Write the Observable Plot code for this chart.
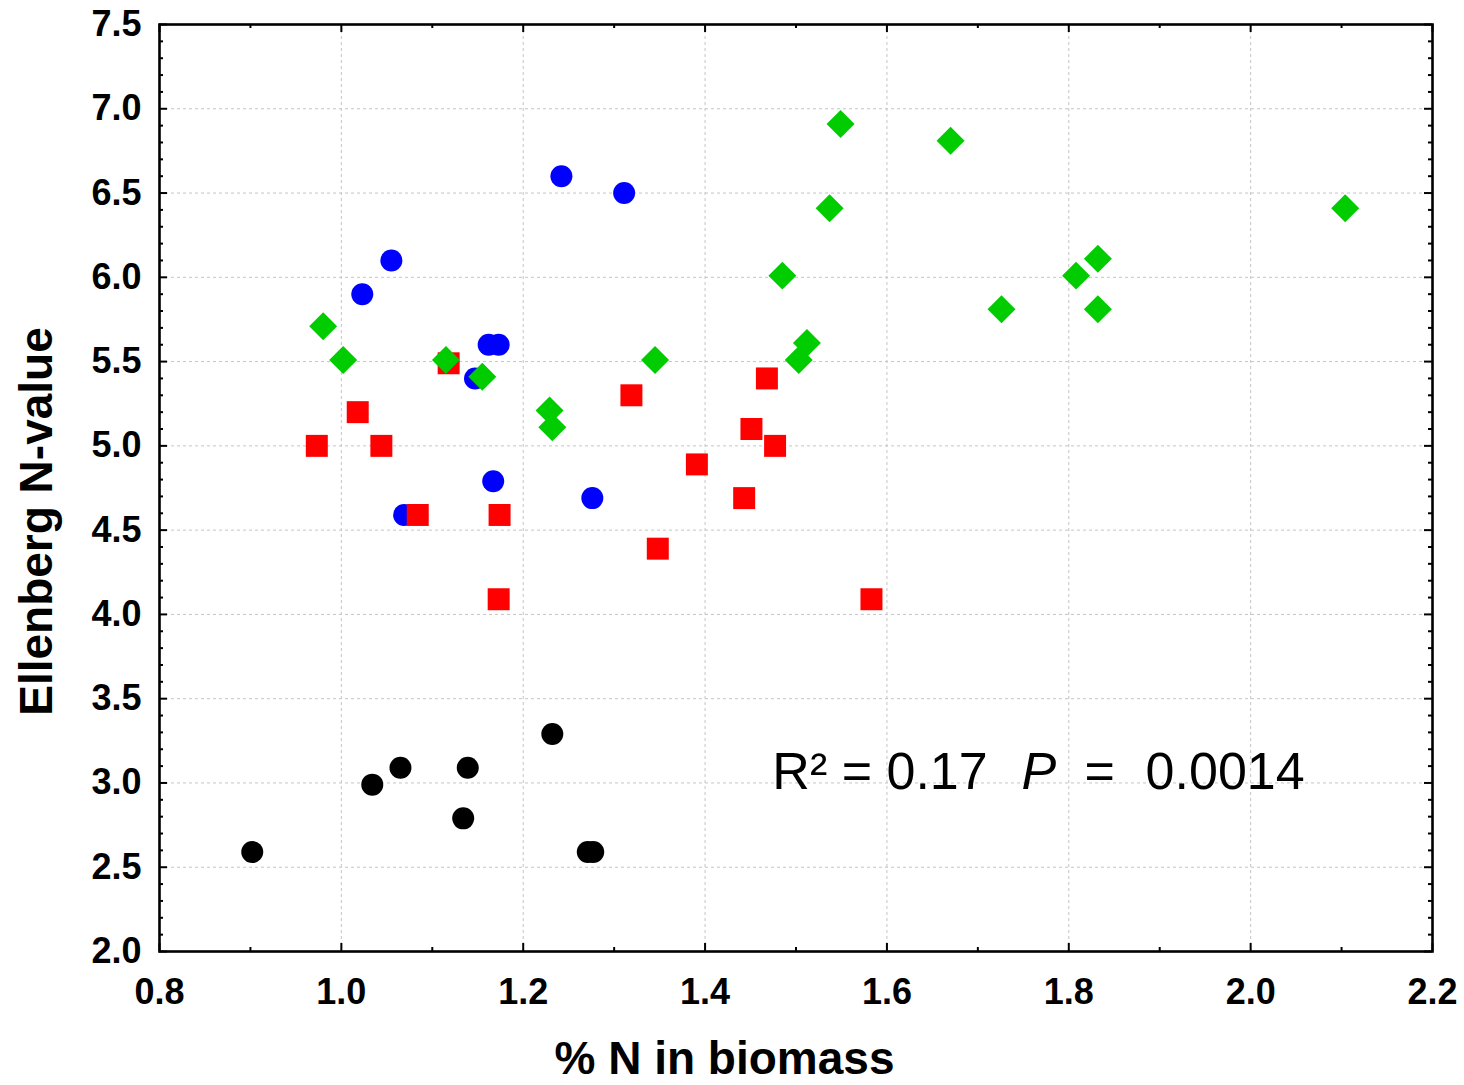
<!DOCTYPE html>
<html>
<head>
<meta charset="utf-8">
<script src="https://cdn.jsdelivr.net/npm/d3@7"></script>
<script src="https://cdn.jsdelivr.net/npm/@observablehq/plot@0.6"></script>
<style>
  html, body { margin: 0; padding: 0; background: #fff; }
  #chart { width: 1464px; height: 1085px; }
</style>
</head>
<body>
<div id="chart"></div>
<script>
// ---- data ----
const blackX = [0.902, 1.034, 1.065, 1.139, 1.134, 1.232, 1.271, 1.277];
const blackY = [2.59, 2.99, 3.09, 3.09, 2.79, 3.29, 2.59, 2.59];

const blueX = [1.023, 1.055, 1.242, 1.311, 1.162, 1.173, 1.147, 1.167, 1.276, 1.069];
const blueY = [5.90, 6.10, 6.60, 6.50, 5.60, 5.60, 5.40, 4.79, 4.69, 4.59];

const redX = [0.973, 1.018, 1.044, 1.118, 1.084, 1.174, 1.173, 1.319, 1.348, 1.391, 1.443, 1.451, 1.468, 1.477, 1.583];
const redY = [5.00, 5.20, 5.00, 5.49, 4.59, 4.59, 4.09, 5.30, 4.39, 4.89, 4.69, 5.10, 5.40, 5.00, 4.09];

const greenX = [0.980, 1.002, 1.115, 1.155, 1.229, 1.232, 1.345, 1.485, 1.512, 1.503, 1.537, 1.549, 1.670, 1.726, 1.808, 1.832, 1.832, 2.104];
const greenY = [5.71, 5.51, 5.51, 5.41, 5.21, 5.11, 5.51, 6.01, 5.61, 5.51, 6.41, 6.91, 6.81, 5.81, 6.01, 6.11, 5.81, 6.41];

const xMajor = [0.8, 1.0, 1.2, 1.4, 1.6, 1.8, 2.0, 2.2];
const xMinor = [0.9, 1.1, 1.3, 1.5, 1.7, 1.9, 2.1];
const yMajor = [2.0, 2.5, 3.0, 3.5, 4.0, 4.5, 5.0, 5.5, 6.0, 6.5, 7.0, 7.5];
const yMinor = [2.1, 2.2, 2.3, 2.4, 2.6, 2.7, 2.8, 2.9, 3.1, 3.2, 3.3, 3.4, 3.6, 3.7, 3.8, 3.9,
                4.1, 4.2, 4.3, 4.4, 4.6, 4.7, 4.8, 4.9, 5.1, 5.2, 5.3, 5.4, 5.6, 5.7, 5.8, 5.9,
                6.1, 6.2, 6.3, 6.4, 6.6, 6.7, 6.8, 6.9, 7.1, 7.2, 7.3, 7.4];

const xLabel = "% N in biomass";
const yLabel = "Ellenberg N-value";

const annotTexts = ["R² = 0.17", "P", "=", "0.0014"];
const annotX = [1.474, 1.748, 1.8174, 1.8845];
const annotY = [2.962, 2.962, 2.962, 2.962];
const annotItalic = [false, true, false, false];

// ---- build tables ----
const zip = (xs, ys) => xs.map((x, i) => ({x, y: ys[i]}));
const black = zip(blackX, blackY);
const blue = zip(blueX, blueY);
const red = zip(redX, redY);
const green = zip(greenX, greenY);
const annots = annotTexts.map((t, i) => ({t, x: annotX[i], y: annotY[i], italic: annotItalic[i]}));

// ---- layout ----
const W = 1464, H = 1085;
const mL = 159, mR = 32, mT = 24, mB = 134;
const innerW = W - mL - mR, innerH = H - mT - mB;
const bold = "bold";
const majorLen = 8, minorLen = 4;

const tickStyle = {stroke: "black", strokeWidth: 2};

const chart = Plot.plot({
  width: W,
  height: H,
  marginLeft: mL, marginRight: mR, marginTop: mT, marginBottom: mB,
  style: {fontFamily: "'Liberation Sans', Arial, sans-serif", background: "white", color: "black"},
  x: {domain: [0.8, 2.2]},
  y: {domain: [2.0, 7.5]},
  marks: [
    Plot.gridX(xMajor, {stroke: "#c4c4c4", strokeOpacity: 1, strokeWidth: 1, strokeDasharray: "3,3"}),
    Plot.gridY(yMajor, {stroke: "#c4c4c4", strokeOpacity: 1, strokeWidth: 1, strokeDasharray: "3,3"}),
    // inward tick marks on all four sides
    Plot.tickX(xMajor, {x: d => d, insetTop: innerH - majorLen, ...tickStyle}),
    Plot.tickX(xMajor, {x: d => d, insetBottom: innerH - majorLen, ...tickStyle}),
    Plot.tickX(xMinor, {x: d => d, insetTop: innerH - minorLen, ...tickStyle}),
    Plot.tickX(xMinor, {x: d => d, insetBottom: innerH - minorLen, ...tickStyle}),
    Plot.tickY(yMajor, {y: d => d, insetRight: innerW - majorLen, ...tickStyle}),
    Plot.tickY(yMajor, {y: d => d, insetLeft: innerW - majorLen, ...tickStyle}),
    Plot.tickY(yMinor, {y: d => d, insetRight: innerW - minorLen, ...tickStyle}),
    Plot.tickY(yMinor, {y: d => d, insetLeft: innerW - minorLen, ...tickStyle}),
    Plot.frame({stroke: "black", strokeWidth: 2.6}),
    Plot.axisX(xMajor, {tickSize: 0, tickPadding: 27, tickFormat: d3.format(".1f"), fontSize: 36, fontWeight: bold, fill: "black", label: null}),
    Plot.axisY(yMajor, {tickSize: 0, tickPadding: 18, tickFormat: d3.format(".1f"), fontSize: 36, fontWeight: bold, fill: "black", label: null}),
    // axis titles
    Plot.text([xLabel], {text: d => d, frameAnchor: "bottom", dx: 724 - (mL + innerW / 2), dy: 122, lineAnchor: "bottom", textAnchor: "middle", fontSize: 46, fontWeight: bold, fill: "black"}),
    Plot.text([yLabel], {text: d => d, frameAnchor: "left", rotate: -90, dx: 51 - mL, dy: 521 - (mT + innerH / 2), lineAnchor: "bottom", textAnchor: "middle", fontSize: 46, fontWeight: bold, fill: "black"}),
    // data
    Plot.dot(black, {x: "x", y: "y", r: 11, fill: "black", symbol: "circle"}),
    Plot.dot(blue, {x: "x", y: "y", r: 11, fill: "#0000ff", symbol: "circle"}),
    Plot.dot(red, {x: "x", y: "y", r: 12.4, fill: "#ff0000", symbol: "square"}),
    Plot.dot(green, {x: "x", y: "y", r: 12.6, fill: "#00cc00", symbol: "diamond2"}),
    // annotation
    Plot.text(annots.filter(d => !d.italic), {x: "x", y: "y", text: "t", textAnchor: "start", lineAnchor: "bottom", fontSize: 52, fill: "black"}),
    Plot.text(annots.filter(d => d.italic), {x: "x", y: "y", text: "t", textAnchor: "start", lineAnchor: "bottom", fontSize: 52, fontStyle: "italic", fill: "black"})
  ]
});

document.getElementById("chart").appendChild(chart);
</script>
</body>
</html>
